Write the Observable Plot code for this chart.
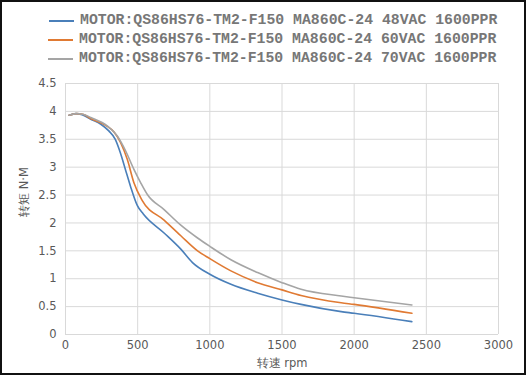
<!DOCTYPE html>
<html><head><meta charset="utf-8">
<script src="https://cdn.jsdelivr.net/npm/d3@7"></script>
<script src="https://cdn.jsdelivr.net/npm/@observablehq/plot@0.6"></script>
<style>
html,body{margin:0;padding:0;background:#fff;}
#frame{position:relative;width:522px;height:371px;border:2px solid #111;background:#fff;overflow:hidden;}
#legend{position:absolute;left:0;top:0;width:522px;height:70px;}
.row{position:absolute;left:0;height:19px;}
.sw{position:absolute;left:46px;top:9px;width:25px;height:2px;}
.lt{position:absolute;left:76px;top:0;font-family:"Liberation Mono",monospace;font-size:14.8px;font-weight:bold;color:#777;white-space:pre;line-height:19px;}
#chart{position:absolute;left:0;top:68px;}
</style></head>
<body><div id="frame"><div id="legend"></div><div id="chart"></div></div>
<script>
const seriesNames = [
  "MOTOR:QS86HS76-TM2-F150 MA860C-24 48VAC 1600PPR",
  "MOTOR:QS86HS76-TM2-F150 MA860C-24 60VAC 1600PPR",
  "MOTOR:QS86HS76-TM2-F150 MA860C-24 70VAC 1600PPR"
];
const colors = ["#4a7fb9", "#e07a33", "#a5a5a5"];
const rpm48 = [25, 70, 115, 175, 245, 300, 345, 380, 415, 450, 498, 539, 683, 799, 880, 1000, 1146, 1331, 1500, 1632, 1910, 2000, 2400];
const tq48  = [3.93, 3.96, 3.94, 3.86, 3.77, 3.65, 3.50, 3.26, 2.96, 2.66, 2.31, 2.16, 1.82, 1.53, 1.29, 1.08, 0.90, 0.74, 0.62, 0.54, 0.41, 0.38, 0.23];
const rpm60 = [25, 75, 120, 175, 278, 336, 382, 428, 474, 532, 683, 799, 915, 1000, 1146, 1331, 1500, 1632, 1910, 2000, 2400];
const tq60  = [3.93, 3.96, 3.95, 3.87, 3.75, 3.63, 3.44, 3.14, 2.72, 2.40, 2.05, 1.77, 1.50, 1.36, 1.14, 0.93, 0.80, 0.70, 0.57, 0.54, 0.38];
const rpm70 = [25, 75, 120, 175, 289, 359, 417, 474, 521, 567, 683, 799, 915, 1000, 1146, 1331, 1500, 1632, 1910, 2000, 2400];
const tq70  = [3.93, 3.96, 3.95, 3.89, 3.74, 3.56, 3.29, 2.96, 2.72, 2.51, 2.24, 1.96, 1.73, 1.58, 1.34, 1.11, 0.93, 0.81, 0.69, 0.66, 0.53];
const xTicks = [0, 500, 1000, 1500, 2000, 2500, 3000];
const yTicks = [0, 0.5, 1, 1.5, 2, 2.5, 3, 3.5, 4, 4.5];
const xTitle = "转速 rpm";
const yTitle = "转矩 N·M";

const legend = document.getElementById("legend");
seriesNames.forEach((n, i) => {
  const r = document.createElement("div");
  r.className = "row"; r.style.top = (9 + i * 19) + "px";
  r.innerHTML = `<div class="sw" style="background:${colors[i]};left:${i===0?47:46}px"></div><div class="lt" style="left:${i===0?78:77}px">${n}</div>`;
  legend.appendChild(r);
});

const data = [];
[[rpm48, tq48], [rpm60, tq60], [rpm70, tq70]].forEach(([xs, ys], i) => {
  xs.forEach((x, j) => data.push({series: seriesNames[i], rpm: x, torque: ys[j]}));
});

const chart = Plot.plot({
  width: 522, height: 303,
  marginLeft: 63, marginRight: 26, marginTop: 13, marginBottom: 39,
  style: {fontFamily: "DejaVu Sans, sans-serif", fontSize: "11.5px", color: "#595959", background: "#fff"},
  x: {domain: [0, 3000], ticks: xTicks, label: null},
  y: {domain: [0, 4.5], ticks: yTicks, label: null},
  color: {domain: seriesNames, range: colors},
  marks: [
    Plot.gridX(xTicks, {stroke: "#d9d9d9", strokeOpacity: 1, strokeWidth: 1}),
    Plot.gridY(yTicks, {stroke: "#d9d9d9", strokeOpacity: 1, strokeWidth: 1}),
    Plot.axisX(xTicks, {tickSize: 0, tickPadding: 6, fill: "#595959", tickFormat: d => String(d)}),
    Plot.axisY(yTicks, {tickSize: 0, tickPadding: 9, fill: "#595959", tickFormat: d => String(d)}),
    Plot.line(data, {x: "rpm", y: "torque", z: "series", stroke: "series", strokeWidth: 1.6, curve: "monotone-x"}),
    Plot.text([xTitle], {frameAnchor: "bottom", dy: 32, fill: "#595959", fontSize: 11.5}),
    Plot.text([yTitle], {frameAnchor: "left", dx: -41, dy: 8, rotate: -90, fill: "#595959", fontSize: 11.5})
  ]
});
document.getElementById("chart").appendChild(chart);
</script></body></html>
